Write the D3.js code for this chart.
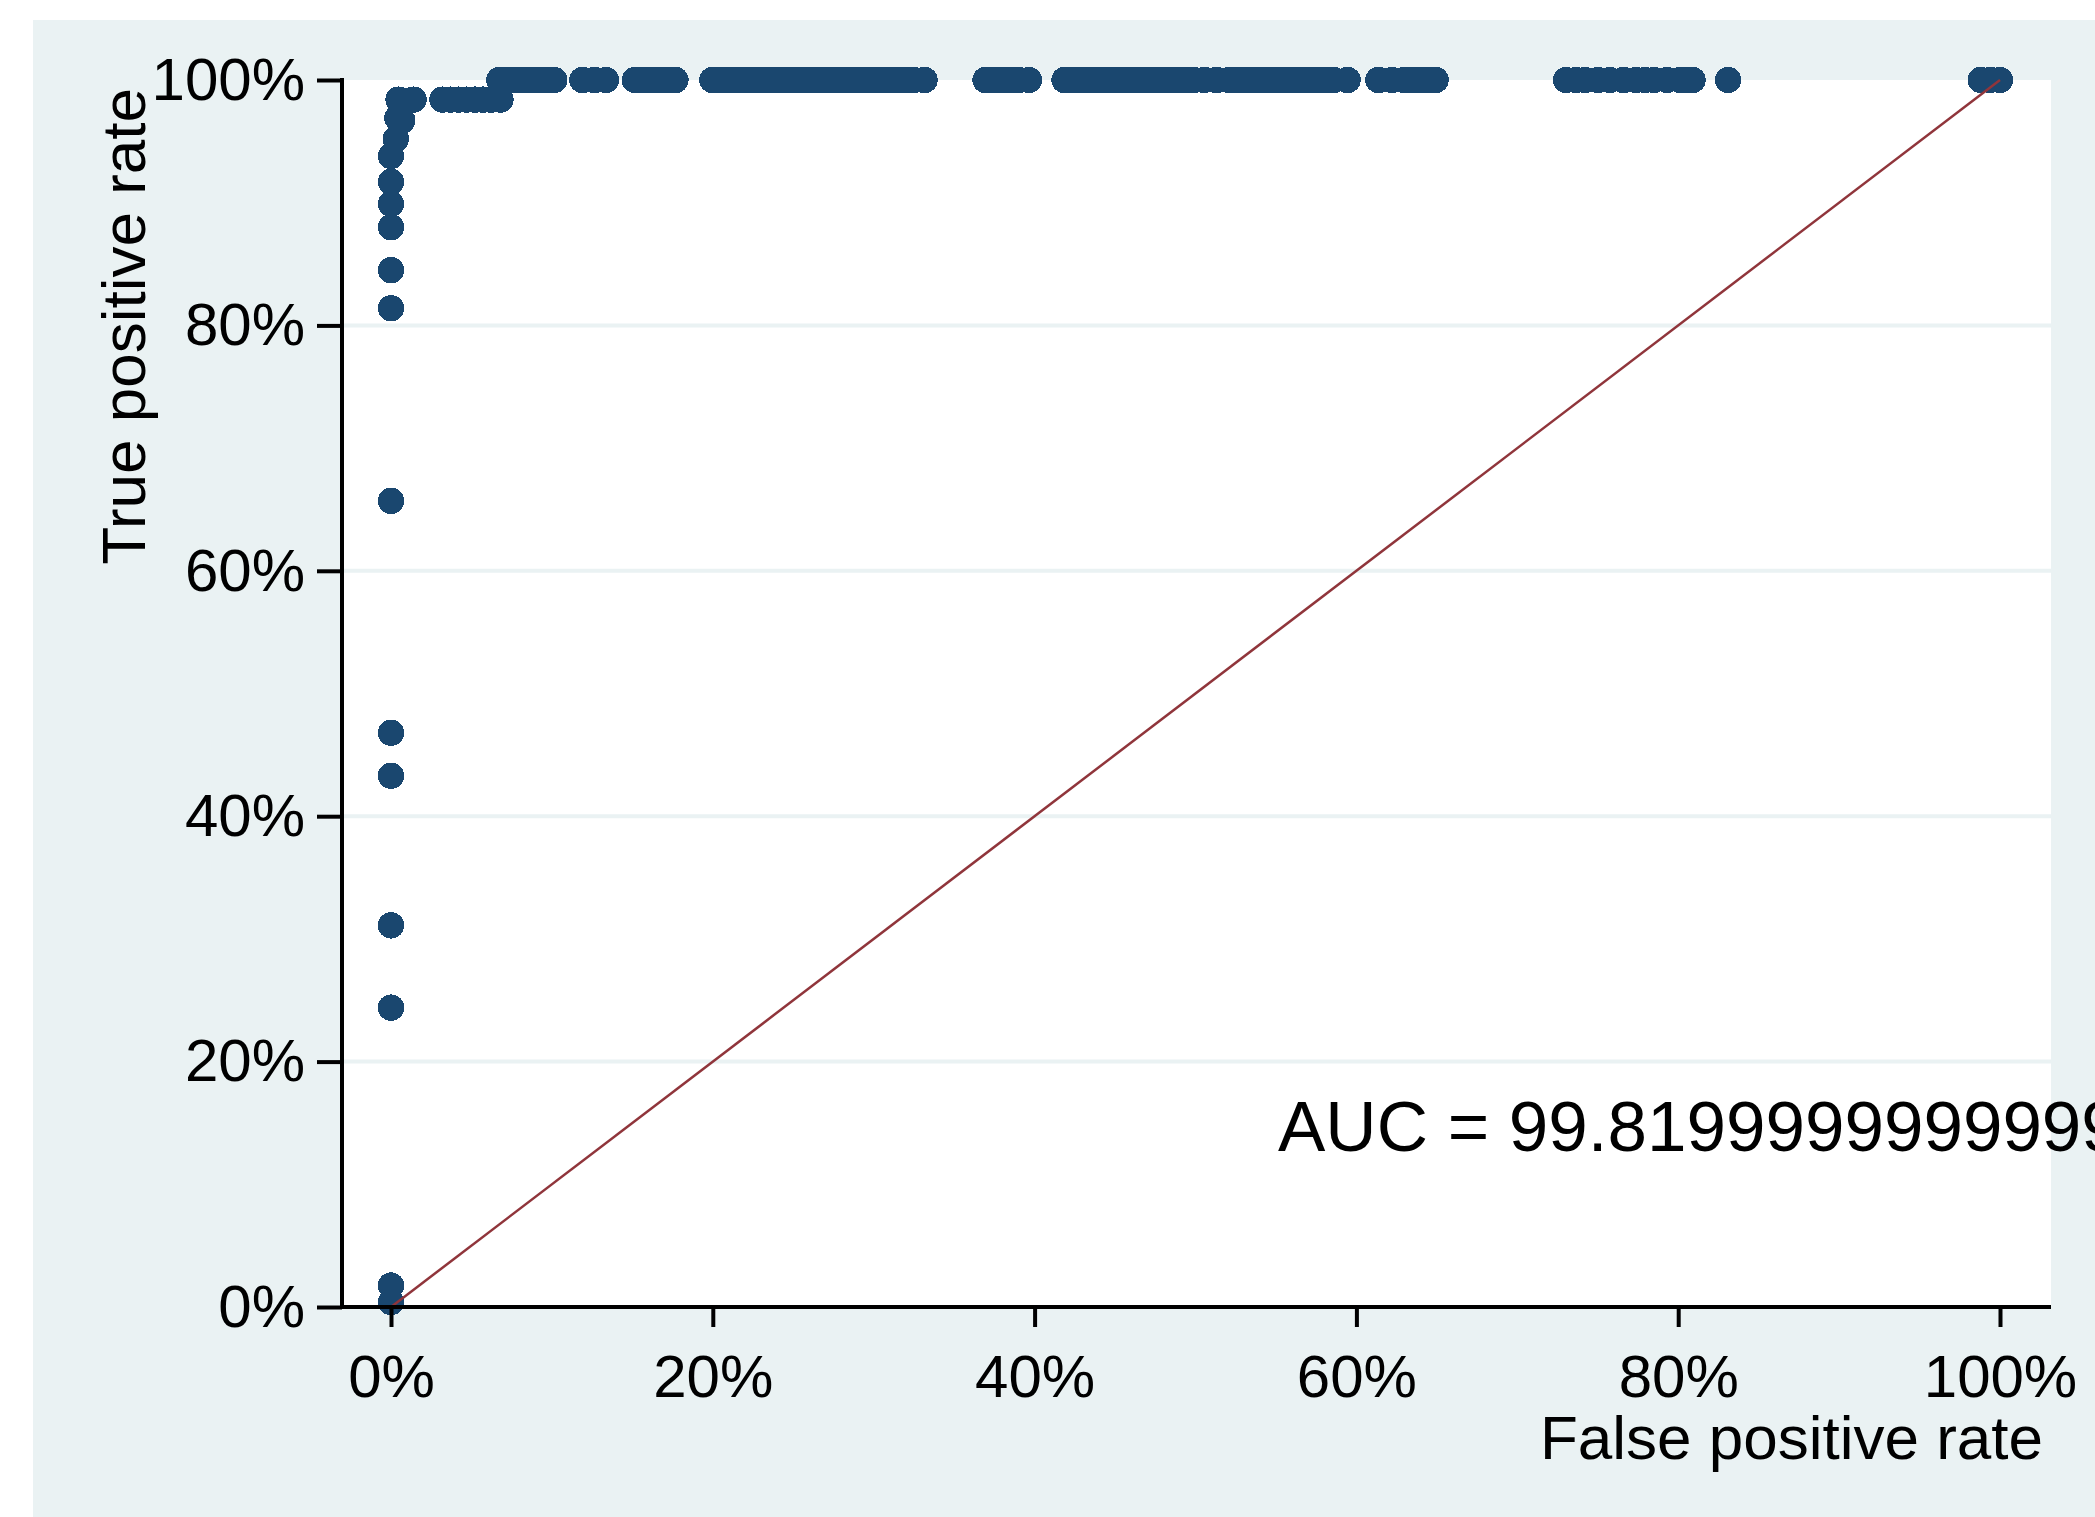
<!DOCTYPE html>
<html>
<head>
<meta charset="utf-8">
<script src="https://cdn.jsdelivr.net/npm/d3@7"></script>
<style>
  html, body { margin: 0; padding: 0; background: #ffffff; }
  svg { display: block; }
</style>
</head>
<body>
<script>
// ---------------- DATA ----------------
// ROC points below TPR = 100% (false positive rate, true positive rate)
const lowerFPR = [0, 0, 0, 0, 0, 0, 0, 0, 0, 0, 0, 0, 0, 0.003, 0.004, 0.007,
                  0.0047, 0.014, 0.032, 0.037, 0.042, 0.047, 0.052, 0.057, 0.062, 0.068];
const lowerTPR = [0.004, 0.0175, 0.244, 0.311, 0.433, 0.468, 0.657, 0.814, 0.845, 0.880, 0.899, 0.917, 0.938, 0.952, 0.969, 0.967,
                  0.984, 0.984, 0.984, 0.984, 0.984, 0.984, 0.984, 0.984, 0.984, 0.984];
// ROC points at TPR = 100%: their false positive rates
const topFPR = [
  0.0674, 0.0725, 0.078, 0.083, 0.088, 0.093, 0.098, 0.1014,
  0.119, 0.1265, 0.1336,
  0.1516, 0.157, 0.162, 0.167, 0.172, 0.1768,
  0.1998, 0.205, 0.210, 0.215, 0.220, 0.225, 0.230, 0.235, 0.240, 0.245, 0.250, 0.255,
  0.260, 0.265, 0.270, 0.275, 0.280, 0.285, 0.290, 0.295, 0.300, 0.305, 0.310, 0.315,
  0.320, 0.325, 0.3316,
  0.3695, 0.375, 0.380, 0.385, 0.390, 0.3965,
  0.4186, 0.424, 0.429, 0.434, 0.439, 0.444, 0.449, 0.454, 0.459, 0.464, 0.469, 0.474,
  0.479, 0.484, 0.489, 0.494, 0.499, 0.5055, 0.513,
  0.521, 0.526, 0.531, 0.536, 0.541, 0.546, 0.551, 0.556, 0.561, 0.566, 0.571, 0.576,
  0.581, 0.586, 0.5945,
  0.6137, 0.622, 0.6296, 0.6345, 0.6395, 0.644, 0.6492,
  0.7303, 0.7365, 0.7421, 0.750, 0.7576, 0.766, 0.7738, 0.7795, 0.7850, 0.793, 0.8011, 0.8050, 0.8089,
  0.831,
  0.988, 0.994, 1.0
];
const topTPR = 1.0;
// reference diagonal
const diagonal = [[0, 0], [1, 1]];
// axis ticks
const xTickValues = [0, 0.2, 0.4, 0.6, 0.8, 1.0];
const xTickLabels = ["0%", "20%", "40%", "60%", "80%", "100%"];
const yTickValues = [0, 0.2, 0.4, 0.6, 0.8, 1.0];
const yTickLabels = ["0%", "20%", "40%", "60%", "80%", "100%"];
const xTitle = "False positive rate";
const yTitle = "True positive rate";
const aucText = "99.81999999999999";

// ---------------- LAYOUT ----------------
const W = 2095, H = 1517;
const plot = { left: 342, right: 2051, top: 80, bottom: 1307 };
const FONT = "'Liberation Sans', Arial, Helvetica, sans-serif";
const BG = "#EAF2F3", NAVY = "#1A476F", MAROON = "#90353B";

const svg = d3.select("body").append("svg")
  .attr("width", W).attr("height", H)
  .attr("viewBox", `0 0 ${W} ${H}`);

svg.append("rect").attr("width", W).attr("height", H).attr("fill", "#ffffff");
svg.append("rect").attr("x", 33).attr("y", 20).attr("width", W - 33).attr("height", H - 20).attr("fill", BG);
svg.append("rect").attr("x", plot.left).attr("y", plot.top)
  .attr("width", plot.right - plot.left).attr("height", plot.bottom - plot.top).attr("fill", "#ffffff");

const x = d3.scaleLinear().domain([0, 1]).range([391, 2000]);
const y = d3.scaleLinear().domain([0, 1]).range([1307, 80]);

// gridlines
svg.append("g").selectAll("line")
  .data(yTickValues.filter(v => v > 0 && v < 1))
  .join("line")
  .attr("x1", plot.left).attr("x2", plot.right)
  .attr("y1", d => y(d)).attr("y2", d => y(d))
  .attr("stroke", BG).attr("stroke-width", 4);

// markers
const pts = lowerFPR.map((f, i) => [f, lowerTPR[i]])
  .concat(topFPR.map(f => [f, topTPR]));
svg.append("g").attr("shape-rendering", "crispEdges").selectAll("circle")
  .data(pts)
  .join("circle")
  .attr("cx", d => x(d[0]))
  .attr("cy", d => y(d[1]))
  .attr("r", 13.2)
  .attr("fill", NAVY);

// diagonal
svg.append("path")
  .datum(diagonal)
  .attr("d", d3.line().x(d => x(d[0])).y(d => y(d[1])))
  .attr("fill", "none")
  .attr("stroke", MAROON)
  .attr("stroke-width", 2.5);

// axes
const yAxis = d3.axisLeft(y)
  .tickValues(yTickValues)
  .tickFormat((d, i) => yTickLabels[i])
  .tickSize(25).tickPadding(12);
const gy = svg.append("g").attr("transform", `translate(${plot.left},0)`).call(yAxis);
gy.select(".domain").remove();
gy.selectAll(".tick line").attr("stroke", "#000").attr("stroke-width", 4);
gy.selectAll(".tick text").attr("font-size", 60).attr("font-family", FONT).attr("fill", "#000");

const xAxis = d3.axisBottom(x)
  .tickValues(xTickValues)
  .tickFormat((d, i) => xTickLabels[i])
  .tickSize(20).tickPadding(27);
const gx = svg.append("g").attr("transform", `translate(0,${plot.bottom})`).call(xAxis);
gx.select(".domain").remove();
gx.selectAll(".tick line").attr("stroke", "#000").attr("stroke-width", 4);
gx.selectAll(".tick text").attr("font-size", 60).attr("font-family", FONT).attr("fill", "#000");

// axis lines
svg.append("line").attr("x1", plot.left).attr("x2", plot.left)
  .attr("y1", plot.top - 2).attr("y2", plot.bottom + 2)
  .attr("stroke", "#000").attr("stroke-width", 4);
svg.append("line").attr("x1", plot.left).attr("x2", plot.right)
  .attr("y1", plot.bottom).attr("y2", plot.bottom)
  .attr("stroke", "#000").attr("stroke-width", 4);

// titles
svg.append("text")
  .attr("transform", "translate(145,88) rotate(-90)")
  .attr("text-anchor", "end")
  .attr("font-family", FONT).attr("font-size", 62).attr("fill", "#000")
  .text(yTitle);
svg.append("text")
  .attr("x", 2043).attr("y", 1459)
  .attr("text-anchor", "end")
  .attr("font-family", FONT).attr("font-size", 62).attr("fill", "#000")
  .text(xTitle);

// AUC annotation (runs past the right edge, as in the original)
svg.append("text")
  .attr("x", 1278).attr("y", 1151)
  .attr("font-family", FONT).attr("font-size", 71).attr("fill", "#000")
  .text("AUC = " + aucText);
</script>
</body>
</html>
